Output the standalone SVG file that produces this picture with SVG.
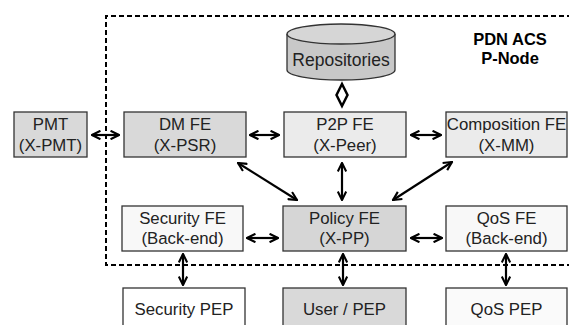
<svg xmlns="http://www.w3.org/2000/svg" width="569" height="325" viewBox="0 0 569 325">
<defs>
<style>
.box{stroke:#333;stroke-width:1.3}
.t{font-family:"Liberation Sans",Arial,sans-serif;font-size:16.8px;fill:#222;text-anchor:middle}
.b{font-family:"Liberation Sans",Arial,sans-serif;font-size:16.5px;font-weight:bold;fill:#000;text-anchor:middle}
.c{stroke:#000;stroke-width:2.2;fill:none;marker-start:url(#ah);marker-end:url(#ah)}
</style>
<marker id="ah" viewBox="0 0 10 10" refX="9" refY="5" markerWidth="4.8" markerHeight="4.8" markerUnits="strokeWidth" orient="auto-start-reverse">
<path d="M1,1 L9,5 L1,9" fill="none" stroke="#000" stroke-width="2"/>
</marker>
</defs>
<rect width="569" height="325" fill="#fff"/>
<path id="boundary" d="M580,16 H106 V265 H580" fill="none" stroke="#000" stroke-width="2" stroke-dasharray="5,3"/>
<g id="label"><text class="b" x="510" y="45">PDN ACS</text><text class="b" x="510" y="64">P-Node</text></g>
<g id="repositories">
<path d="M287,34 V70 A54,10 0 0 0 395,70 V34" fill="#c8c8c8" stroke="#333" stroke-width="1.3"/>
<ellipse cx="341" cy="34" rx="54" ry="10" fill="#d6d6d6" stroke="#333" stroke-width="1.3"/>
<text class="t" x="341" y="66" style="font-size:17.5px">Repositories</text>
</g>
<g id="pmt"><rect class="box" x="14" y="112" width="73" height="45" fill="#d9d9d9"/><text class="t" x="50.5" y="130">PMT</text><text class="t" x="50.5" y="151">(X-PMT)</text></g>
<g id="dm"><rect class="box" x="124" y="112" width="122" height="45" fill="#d9d9d9"/><text class="t" x="185" y="130">DM FE</text><text class="t" x="185" y="151">(X-PSR)</text></g>
<g id="p2p"><rect class="box" x="284" y="112" width="122" height="45" fill="#ebebeb"/><text class="t" x="345" y="130">P2P FE</text><text class="t" x="345" y="151">(X-Peer)</text></g>
<g id="comp"><rect class="box" x="446" y="112" width="121" height="45" fill="#ebebeb"/><text class="t" x="506.5" y="130">Composition FE</text><text class="t" x="506.5" y="151">(X-MM)</text></g>
<g id="secfe"><rect class="box" x="122" y="206" width="121" height="45" fill="#f8f8f8"/><text class="t" x="182.5" y="224">Security FE</text><text class="t" x="182.5" y="244">(Back-end)</text></g>
<g id="policy"><rect class="box" x="283" y="206" width="123" height="45" fill="#d6d6d6"/><text class="t" x="344.5" y="224">Policy FE</text><text class="t" x="344.5" y="244">(X-PP)</text></g>
<g id="qosfe"><rect class="box" x="446" y="206" width="121" height="45" fill="#f8f8f8"/><text class="t" x="506.5" y="224">QoS FE</text><text class="t" x="506.5" y="244">(Back-end)</text></g>
<g id="secpep"><rect class="box" x="123" y="288" width="122" height="45" fill="#fff"/><text class="t" x="184" y="315">Security PEP</text></g>
<g id="userpep"><rect class="box" x="283" y="288" width="123" height="45" fill="#d9d9d9"/><text class="t" x="344.5" y="315">User / PEP</text></g>
<g id="qospep"><rect class="box" x="446" y="288" width="121" height="45" fill="#fafafa"/><text class="t" x="506.5" y="315">QoS PEP</text></g>
<g id="connectors">
<path d="M342,84 L347.5,95 L342,106 L336.5,95 Z" fill="#fff" stroke="#000" stroke-width="2.5"/>
<line class="c" x1="92" y1="135" x2="119" y2="135"/>
<line class="c" x1="250" y1="135" x2="279" y2="135"/>
<line class="c" x1="411" y1="135" x2="441" y2="135"/>
<line class="c" x1="238" y1="163" x2="297" y2="200"/>
<line class="c" x1="342" y1="163" x2="342" y2="200"/>
<line class="c" x1="452" y1="162" x2="393" y2="200"/>
<line class="c" x1="247" y1="238" x2="278" y2="238"/>
<line class="c" x1="411" y1="238" x2="442" y2="238"/>
<line class="c" x1="183" y1="254" x2="183" y2="285"/>
<line class="c" x1="343" y1="254" x2="343" y2="285"/>
<line class="c" x1="506" y1="254" x2="506" y2="285"/>
</g>
</svg>
